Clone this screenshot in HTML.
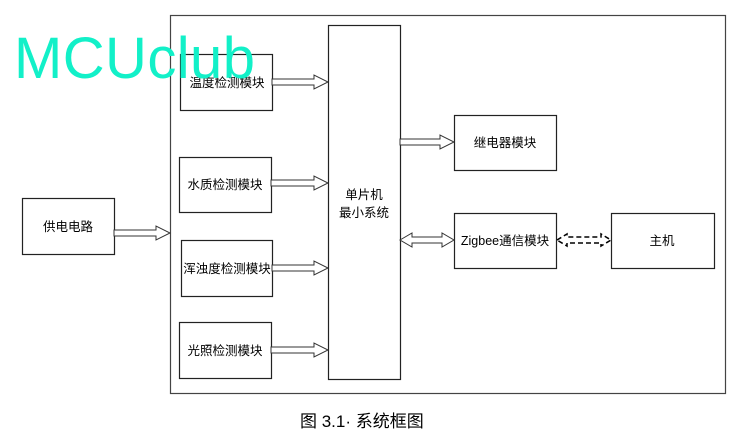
<!DOCTYPE html>
<html><head><meta charset="utf-8"><style>
html,body{margin:0;padding:0;background:#fff;}
svg{display:block;}
text{font-family:"Liberation Sans","Noto Sans CJK SC",sans-serif;fill:#000;}
</style></head><body>
<svg width="742" height="436" viewBox="0 0 742 436" xmlns="http://www.w3.org/2000/svg">
<g fill="#fff" stroke="#222" stroke-width="1.2">
<rect x="170.5" y="15.5" width="555" height="378" stroke="#444"/>
<rect x="328.5" y="25.5" width="72" height="354"/>
<rect x="180.5" y="54.5" width="92" height="56"/>
<rect x="179.5" y="157.5" width="92" height="55"/>
<rect x="181.5" y="240.5" width="91" height="56"/>
<rect x="179.5" y="322.5" width="92" height="56"/>
<rect x="22.5" y="198.5" width="92" height="56"/>
<rect x="454.5" y="115.5" width="102" height="55"/>
<rect x="454.5" y="213.5" width="102" height="55"/>
<rect x="611.5" y="213.5" width="103" height="55"/>
</g>
<g fill="#fff" stroke="#333" stroke-width="1">
<polygon points="272,79 314,79 314,75 328,82 314,89 314,85 272,85"/>
<polygon points="271,180 314,180 314,176 328,183 314,190 314,186 271,186"/>
<polygon points="272,265 314,265 314,261 328,268 314,275 314,271 272,271"/>
<polygon points="271,347 314,347 314,343 328,350 314,357 314,353 271,353"/>
<polygon points="114,230 156,230 156,226 170,233 156,240 156,236 114,236"/>
<polygon points="400,139 440,139 440,135 454,142 440,149 440,145 400,145"/>
<polygon points="400,240 412,233 412,237 442,237 442,233 454,240 442,247 442,243 412,243 412,247"/>
<polygon points="557,240 567,234 567,237 601,237 601,234 611,240 601,246 601,243 567,243 567,246" stroke="#000" stroke-width="1.5" stroke-dasharray="5,3"/>
</g>
<g font-size="12.5" text-anchor="middle">
<text x="227" y="87">温度检测模块</text>
<text x="225" y="189">水质检测模块</text>
<text x="227" y="273">浑浊度检测模块</text>
<text x="225" y="355">光照检测模块</text>
<text x="68" y="231">供电电路</text>
<text x="505" y="147">继电器模块</text>
<text x="505" y="245">Zigbee通信模块</text>
<text x="662" y="245">主机</text>
<text x="364" y="199">单片机</text>
<text x="364" y="217">最小系统</text>
</g>
<text x="14" y="78" font-size="58" textLength="241" style="fill:#12f0c8" font-family="Liberation Sans, sans-serif">MCUclub</text>
<text x="300" y="427" font-size="17">图 3.1· 系统框图</text>
</svg>
</body></html>
